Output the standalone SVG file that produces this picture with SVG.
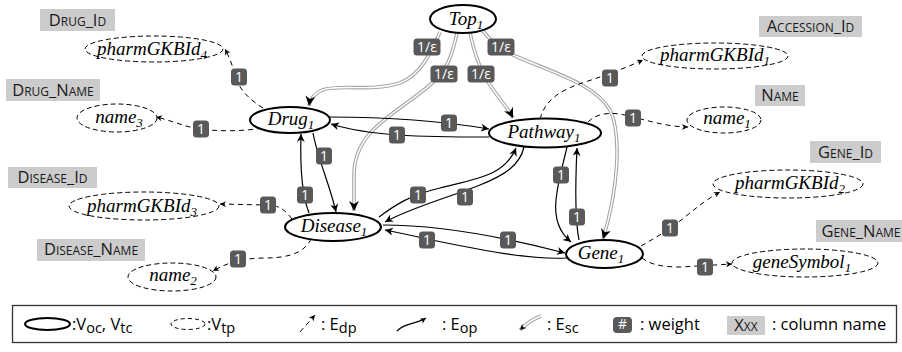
<svg xmlns="http://www.w3.org/2000/svg" width="902" height="352" viewBox="0 0 902 352">
<style>
.bg{fill:#fff}
.on{fill:#fff;stroke:#000;stroke-width:2}
.dn{fill:#fff;stroke:#000;stroke-width:1;stroke-dasharray:5 3}
.nt{font-family:"Liberation Serif",serif;font-style:italic;font-size:19px;fill:#000;text-anchor:middle}
.sb{font-size:13px}
.cb{fill:#cccccc}
.ct{font-family:"Open Sans","Liberation Sans",sans-serif;font-size:16.5px;font-variant:small-caps;fill:#1a1a1a;text-anchor:middle}
.op{fill:none;stroke:#000;stroke-width:1.2}
.dp{fill:none;stroke:#000;stroke-width:1;stroke-dasharray:5 4}
.sc1{fill:none;stroke:#a6a6a6;stroke-width:3.6}
.sc2{fill:none;stroke:#fff;stroke-width:1.4}
.lb{fill:#595959}
.lt{font-family:"Open Sans","Liberation Sans",sans-serif;font-size:14px;fill:#fff;text-anchor:middle}
.lg{font-family:"Open Sans","Liberation Sans",sans-serif;font-size:16.5px;fill:#000}
</style>
<defs>
<marker id="ma" viewBox="0 0 10 10" refX="10" refY="5" markerWidth="9" markerHeight="8" markerUnits="userSpaceOnUse" orient="auto"><path d="M0,0 L10,5 L0,10 L3,5 z" fill="#000"/></marker>
<marker id="md" viewBox="0 0 10 10" refX="10" refY="5" markerWidth="7" markerHeight="6" markerUnits="userSpaceOnUse" orient="auto"><path d="M0,0 L10,5 L0,10 L3,5 z" fill="#000"/></marker>
<marker id="ms" viewBox="0 0 10 10" refX="10" refY="5" markerWidth="11" markerHeight="10" markerUnits="userSpaceOnUse" orient="auto"><path d="M0,0 L10,5 L0,10 L3,5 z" fill="#000"/></marker>
</defs>
<rect class="bg" x="0" y="0" width="902" height="352"/>

<g id="column-names">
<rect class="cb" x="40" y="9" width="75" height="22"/><text class="ct" x="77.5" y="26">Drug_Id</text>
<rect class="cb" x="6" y="79" width="94" height="22"/><text class="ct" x="53" y="96">Drug_Name</text>
<rect class="cb" x="759" y="16" width="103" height="21"/><text class="ct" x="810.5" y="32">Accession_Id</text>
<rect class="cb" x="755" y="85" width="50" height="21"/><text class="ct" x="780" y="101">Name</text>
<rect class="cb" x="810" y="141" width="71" height="22"/><text class="ct" x="845.5" y="158">Gene_Id</text>
<rect class="cb" x="816" y="220" width="90" height="22"/><text class="ct" x="861" y="237">Gene_Name</text>
<rect class="cb" x="8" y="167" width="89" height="21"/><text class="ct" x="52.5" y="183">Disease_Id</text>
<rect class="cb" x="37" y="239" width="108" height="22"/><text class="ct" x="91" y="255">Disease_Name</text>
</g>

<g id="connectors">
<!-- E_sc from Top -->
<path class="sc1" d="M440,32 C430,55 420,75 400,83 C370,92 340,84 322,90 C314,94 310,99 309,106"/>
<path class="sc2" marker-end="url(#ms)" d="M440,32 C430,55 420,75 400,83 C370,92 340,84 322,90 C314,94 310,99 309,106"/>
<path class="sc1" d="M457,33 C452,55 448,70 430,85 C395,115 354,130 354,175 L354,211"/>
<path class="sc2" marker-end="url(#ms)" d="M457,33 C452,55 448,70 430,85 C395,115 354,130 354,175 L354,211"/>
<path class="sc1" d="M470,33 C475,55 480,70 490,85 C500,100 508,108 513,118"/>
<path class="sc2" marker-end="url(#ms)" d="M470,33 C475,55 480,70 490,85 C500,100 508,108 513,118"/>
<path class="sc1" d="M483,31 C492,42 500,50 520,58 C560,75 595,85 610,110 C622,135 618,190 603,239"/>
<path class="sc2" marker-end="url(#ms)" d="M483,31 C492,42 500,50 520,58 C560,75 595,85 610,110 C622,135 618,190 603,239"/>

<!-- E_op -->
<path class="op" marker-end="url(#ma)" d="M329,117 C380,117 430,119 489,129"/>
<path class="op" marker-end="url(#ma)" d="M489,137 C420,137 370,136 331,124"/>
<path class="op" marker-end="url(#ma)" d="M313,133 C318,160 330,185 336,212"/>
<path class="op" marker-end="url(#ma)" d="M309,213 C302,195 300,165 301,134"/>
<path class="op" marker-end="url(#ma)" d="M379,217 C395,205 410,195 440,188 C480,178 505,175 516,148"/>
<path class="op" marker-end="url(#ma)" d="M524,147 C520,165 505,175 480,185 C450,197 410,208 385,222"/>
<path class="op" marker-end="url(#ma)" d="M383,225 C440,225 500,236 565,253"/>
<path class="op" marker-end="url(#ma)" d="M567,258 C530,260 480,250 427,239 C410,235 395,232 385,230"/>
<path class="op" marker-end="url(#ma)" d="M567,147 C563,165 558,180 556,200 C554,220 560,233 571,242"/>
<path class="op" marker-end="url(#ma)" d="M579,240 C575,220 575,190 577,148"/>

<!-- E_dp -->
<path class="dp" marker-end="url(#md)" d="M263,108 C250,100 240,90 237,80 C233,68 230,58 225,49"/>
<path class="dp" marker-end="url(#md)" d="M262,128 C240,132 215,131 200,129 C185,127 170,120 156,117"/>
<path class="dp" marker-end="url(#md)" d="M292,219 C285,210 280,205 265,205 L220,204"/>
<path class="dp" marker-end="url(#md)" d="M311,239 C305,252 290,258 265,258 C245,258 228,262 213,271"/>
<path class="dp" marker-end="url(#md)" d="M540,119 C545,100 560,90 585,82 C610,74 630,66 643,60"/>
<path class="dp" marker-end="url(#md)" d="M588,122 C595,115 605,112 620,114 C640,118 665,127 688,127"/>
<path class="dp" marker-end="url(#md)" d="M641,246 C655,238 665,232 675,225 C690,213 705,200 720,192"/>
<path class="dp" marker-end="url(#md)" d="M642,258 C650,264 660,267 680,267 L732,264"/>

<!-- weight labels -->
<g>
<rect class="lb" x="413.5" y="38.5" width="27" height="17" rx="3.5"/><text class="lt" x="427" y="52">1/ε</text>
<rect class="lb" x="430.5" y="65.5" width="27" height="17" rx="3.5"/><text class="lt" x="444" y="79">1/ε</text>
<rect class="lb" x="467.5" y="65.5" width="27" height="17" rx="3.5"/><text class="lt" x="481" y="79">1/ε</text>
<rect class="lb" x="487.5" y="38.5" width="27" height="17" rx="3.5"/><text class="lt" x="501" y="52">1/ε</text>
<rect class="lb" x="231" y="68.5" width="16" height="17" rx="3.5"/><text class="lt" x="239" y="82">1</text>
<rect class="lb" x="193" y="120.5" width="16" height="17" rx="3.5"/><text class="lt" x="201" y="134">1</text>
<rect class="lb" x="441" y="114.5" width="16" height="17" rx="3.5"/><text class="lt" x="449" y="128">1</text>
<rect class="lb" x="389" y="126.5" width="16" height="17" rx="3.5"/><text class="lt" x="397" y="140">1</text>
<rect class="lb" x="316" y="147.5" width="16" height="17" rx="3.5"/><text class="lt" x="324" y="161">1</text>
<rect class="lb" x="297" y="186.5" width="16" height="17" rx="3.5"/><text class="lt" x="305" y="200">1</text>
<rect class="lb" x="260" y="196.5" width="16" height="17" rx="3.5"/><text class="lt" x="268" y="210">1</text>
<rect class="lb" x="230" y="250.5" width="16" height="17" rx="3.5"/><text class="lt" x="238" y="264">1</text>
<rect class="lb" x="410" y="186.5" width="16" height="17" rx="3.5"/><text class="lt" x="418" y="200">1</text>
<rect class="lb" x="457" y="188.5" width="16" height="17" rx="3.5"/><text class="lt" x="465" y="202">1</text>
<rect class="lb" x="419" y="231.5" width="16" height="17" rx="3.5"/><text class="lt" x="427" y="245">1</text>
<rect class="lb" x="500" y="231.5" width="16" height="17" rx="3.5"/><text class="lt" x="508" y="245">1</text>
<rect class="lb" x="553" y="166.5" width="16" height="17" rx="3.5"/><text class="lt" x="561" y="180">1</text>
<rect class="lb" x="569" y="208.5" width="16" height="17" rx="3.5"/><text class="lt" x="577" y="222">1</text>
<rect class="lb" x="602" y="69.5" width="16" height="17" rx="3.5"/><text class="lt" x="610" y="83">1</text>
<rect class="lb" x="625" y="109.5" width="16" height="17" rx="3.5"/><text class="lt" x="633" y="123">1</text>
<rect class="lb" x="662" y="219.5" width="16" height="17" rx="3.5"/><text class="lt" x="670" y="233">1</text>
<rect class="lb" x="697" y="258.5" width="16" height="17" rx="3.5"/><text class="lt" x="705" y="272">1</text>
</g>
</g>

<g id="Top1"><ellipse class="on" cx="463" cy="19" rx="33" ry="14"/><text class="nt" x="466" y="25">Top<tspan class="sb" dy="4">1</tspan></text></g>
<g id="Drug1"><ellipse class="on" cx="290" cy="120" rx="40" ry="13"/><text class="nt" x="291" y="125">Drug<tspan class="sb" dy="4">1</tspan></text></g>
<g id="Pathway1"><ellipse class="on" cx="545" cy="133" rx="56" ry="14.5"/><text class="nt" x="544" y="138">Pathway<tspan class="sb" dy="4">1</tspan></text></g>
<g id="Disease1"><ellipse class="on" cx="333" cy="227" rx="48" ry="14"/><text class="nt" x="334" y="232">Disease<tspan class="sb" dy="4">1</tspan></text></g>
<g id="Gene1"><ellipse class="on" cx="604.5" cy="254" rx="38.5" ry="14"/><text class="nt" x="601" y="259">Gene<tspan class="sb" dy="4">1</tspan></text></g>

<g id="pharmGKBId4"><ellipse class="dn" cx="154" cy="49" rx="69" ry="13"/><text class="nt" x="152" y="55">pharmGKBId<tspan class="sb" dy="4">4</tspan></text></g>
<g id="name3"><ellipse class="dn" cx="117" cy="118" rx="40" ry="14"/><text class="nt" x="119" y="123">name<tspan class="sb" dy="4">3</tspan></text></g>
<g id="pharmGKBId1"><ellipse class="dn" cx="715" cy="56" rx="73" ry="13"/><text class="nt" x="715" y="61">pharmGKBId<tspan class="sb" dy="4">1</tspan></text></g>
<g id="name1"><ellipse class="dn" cx="724" cy="120" rx="37" ry="13"/><text class="nt" x="727" y="124">name<tspan class="sb" dy="4">1</tspan></text></g>
<g id="pharmGKBId2"><ellipse class="dn" cx="788" cy="184" rx="75" ry="14"/><text class="nt" x="790" y="189">pharmGKBId<tspan class="sb" dy="4">2</tspan></text></g>
<g id="geneSymbol1"><ellipse class="dn" cx="805" cy="263" rx="73" ry="14"/><text class="nt" x="802" y="268">geneSymbol<tspan class="sb" dy="4">1</tspan></text></g>
<g id="pharmGKBId3"><ellipse class="dn" cx="144" cy="206" rx="75" ry="14"/><text class="nt" x="142" y="212">pharmGKBId<tspan class="sb" dy="4">3</tspan></text></g>
<g id="name2"><ellipse class="dn" cx="172" cy="277" rx="44" ry="14"/><text class="nt" x="173" y="281">name<tspan class="sb" dy="4">2</tspan></text></g>

<g id="legend">
<rect x="12.5" y="305.5" width="884" height="37" fill="#fff" stroke="#333" stroke-width="1.3"/>
<ellipse cx="47.5" cy="324" rx="22.5" ry="6" fill="none" stroke="#000" stroke-width="2"/>
<text class="lg" x="72" y="330">:V<tspan font-size="14.5" dy="3">oc</tspan><tspan dy="-3">, V</tspan><tspan font-size="14.5" dy="3">tc</tspan></text>
<ellipse cx="188" cy="324" rx="17" ry="5.5" fill="none" stroke="#000" stroke-width="1" stroke-dasharray="4 3"/>
<text class="lg" x="207" y="330">:V<tspan font-size="14.5" dy="3">tp</tspan></text>
<path class="dp" stroke-dasharray="3 2.5" marker-end="url(#md)" d="M300,332 C305,326 309,322 315,315"/>
<text class="lg" x="321" y="330">: E<tspan font-size="14.5" dy="3">dp</tspan></text>
<path class="op" marker-end="url(#md)" d="M397,331 C405,322 415,325 426,318"/>
<text class="lg" x="442" y="330">: E<tspan font-size="14.5" dy="3">op</tspan></text>
<path class="sc1" d="M541,316 C533,319 526,324 520,330"/>
<path class="sc2" marker-end="url(#md)" d="M541,316 C533,319 526,324 520,330"/>
<text class="lg" x="547" y="330">: E<tspan font-size="14.5" dy="3">sc</tspan></text>
<rect class="lb" x="613" y="317" width="19" height="16" rx="4"/>
<text class="lt" x="622.5" y="329" font-size="11">#</text>
<text class="lg" x="640" y="330">: weight</text>
<rect class="cb" x="727" y="316" width="38" height="19"/>
<text class="ct" x="746" y="331">Xxx</text>
<text class="lg" x="772" y="330">: column name</text>
</g>
</svg>
